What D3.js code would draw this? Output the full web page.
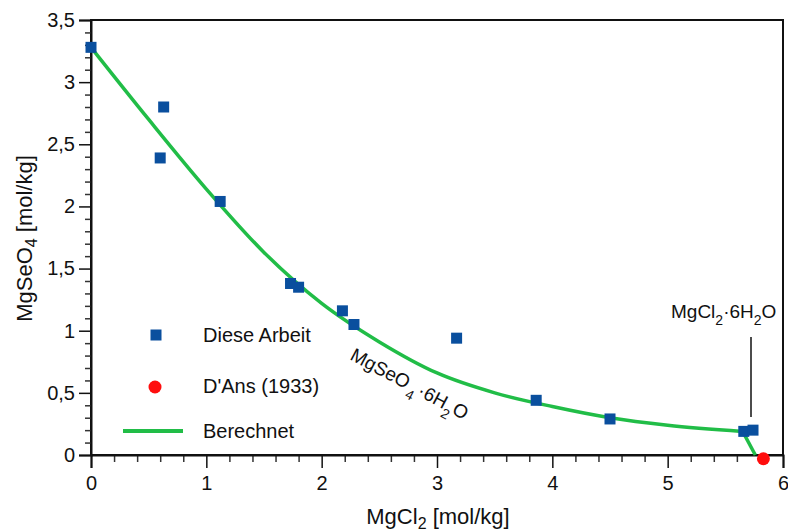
<!DOCTYPE html>
<html><head><meta charset="utf-8">
<script src="https://cdn.jsdelivr.net/npm/d3@7"></script>
<style>
html,body{margin:0;padding:0;background:#fff;}
svg{display:block;font-family:"Liberation Sans",Arial,sans-serif;}
</style></head>
<body>
<svg id="chart" width="788" height="532"></svg>
<script>
// ---- data ----
const dieseArbeitX = [0.00, 0.63, 0.60, 1.12, 1.73, 1.80, 2.18, 2.28, 3.17, 3.86, 4.50, 5.66, 5.74];
const dieseArbeitY = [3.28, 2.80, 2.39, 2.04, 1.38, 1.35, 1.16, 1.05, 0.94, 0.44, 0.29, 0.19, 0.20];
const dAnsX = [5.83];
const dAnsY = [-0.03];
const berechnetX = [0, 0.5, 1.0, 1.5, 2.0, 2.5, 3.0, 3.5, 4.0, 4.5, 5.0, 5.65];
const berechnetY = [3.28, 2.70, 2.14, 1.63, 1.22, 0.91, 0.66, 0.50, 0.39, 0.30, 0.24, 0.19];
const berechnet2X = [5.65, 5.76];
const berechnet2Y = [0.19, 0.00];
const xTicks = [0, 1, 2, 3, 4, 5, 6];
const yTicks = [0, 0.5, 1, 1.5, 2, 2.5, 3, 3.5];
const yTickLabels = ["0", "0,5", "1", "1,5", "2", "2,5", "3", "3,5"];
const legendLabels = ["Diese Arbeit", "D'Ans (1933)", "Berechnet"];

const BLUE = "#0a4f9e", RED = "#ff0d0d", GREEN = "#21bd47";

const svg = d3.select("#chart");
const L = 91, R = 783, T = 20, B = 455;
const x = d3.scaleLinear().domain([0, 6]).range([L, R]);
const y = d3.scaleLinear().domain([0, 3.5]).range([B, T]);

// frame
svg.append("rect").attr("x", L).attr("y", T).attr("width", R - L).attr("height", B - T)
  .attr("fill", "none").attr("stroke", "#111").attr("stroke-width", 2);

// minor ticks
const xMinor = d3.range(0, 6.0001, 0.2).filter(v => Math.abs(v - Math.round(v)) > 1e-6);
const yMinor = d3.range(0, 3.5001, 0.1).filter(v => Math.abs(v * 2 - Math.round(v * 2)) > 1e-6);

const xAxisMinor = svg.append("g").attr("transform", `translate(0,${B})`)
  .call(d3.axisBottom(x).tickValues(xMinor).tickSize(7).tickFormat(""));
const yAxisMinor = svg.append("g").attr("transform", `translate(${L},0)`)
  .call(d3.axisLeft(y).tickValues(yMinor).tickSize(6).tickFormat(""));
[xAxisMinor, yAxisMinor].forEach(g => {
  g.select(".domain").remove();
  g.selectAll("line").attr("stroke", "#333").attr("stroke-width", 1.5);
});

const xAxis = svg.append("g").attr("transform", `translate(0,${B})`)
  .call(d3.axisBottom(x).tickValues(xTicks).tickSize(13).tickPadding(8).tickFormat(d3.format("d")));
const yAxis = svg.append("g").attr("transform", `translate(${L},0)`)
  .call(d3.axisLeft(y).tickValues(yTicks).tickSize(12).tickPadding(4).tickFormat((d, i) => yTickLabels[i]));
[xAxis, yAxis].forEach(g => {
  g.select(".domain").attr("stroke", "#111").attr("stroke-width", 2);
  g.selectAll("line").attr("stroke", "#111").attr("stroke-width", 1.5);
  g.selectAll("text").attr("font-size", 20).attr("fill", "#111")
    .attr("font-family", "'Liberation Sans',Arial,sans-serif");
});

// axis titles
const xt = svg.append("text").attr("x", (L + R) / 2 + 1).attr("y", 524).attr("text-anchor", "middle")
  .attr("font-size", 22).attr("fill", "#111");
xt.append("tspan").text("MgCl");
xt.append("tspan").attr("font-size", 16).attr("dy", 5).text("2");
xt.append("tspan").attr("dy", -5).text(" [mol/kg]");

const yt = svg.append("text").attr("transform", `translate(32,${(T + B) / 2 + 1}) rotate(-90)`)
  .attr("text-anchor", "middle").attr("font-size", 22).attr("fill", "#111");
yt.append("tspan").text("MgSeO");
yt.append("tspan").attr("font-size", 16).attr("dy", 5).text("4");
yt.append("tspan").attr("dy", -5).text(" [mol/kg]");

// curve
const line = d3.line().x(d => x(d[0])).y(d => y(d[1]));
svg.append("path").datum(d3.zip(berechnetX, berechnetY))
  .attr("d", line.curve(d3.curveMonotoneX)).attr("fill", "none")
  .attr("stroke", GREEN).attr("stroke-width", 3.5);
svg.append("path").datum(d3.zip(berechnet2X, berechnet2Y))
  .attr("d", d3.line().x(d => x(d[0])).y(d => y(d[1]))).attr("fill", "none")
  .attr("stroke", GREEN).attr("stroke-width", 3.5);

// points
const sq = 11;
svg.append("g").selectAll("rect").data(d3.zip(dieseArbeitX, dieseArbeitY)).join("rect")
  .attr("x", d => x(d[0]) - sq / 2).attr("y", d => y(d[1]) - sq / 2)
  .attr("width", sq).attr("height", sq).attr("fill", BLUE);
svg.append("g").selectAll("circle").data(d3.zip(dAnsX, dAnsY)).join("circle")
  .attr("cx", d => x(d[0])).attr("cy", d => y(d[1])).attr("r", 6.5).attr("fill", RED);

// legend
const lg = svg.append("g");
lg.append("rect").attr("x", 156 - sq / 2).attr("y", 335 - sq / 2).attr("width", sq).attr("height", sq).attr("fill", BLUE);
lg.append("circle").attr("cx", 155).attr("cy", 387).attr("r", 6.5).attr("fill", RED);
lg.append("line").attr("x1", 123).attr("x2", 183).attr("y1", 431).attr("y2", 431)
  .attr("stroke", GREEN).attr("stroke-width", 4);
[342, 393, 438].forEach((yy, i) => {
  lg.append("text").attr("x", 203).attr("y", yy).attr("font-size", 20).attr("fill", "#111").text(legendLabels[i]);
});

// annotations
const a1 = svg.append("text").attr("transform", "translate(349,359) rotate(28)")
  .attr("font-size", 19).attr("fill", "#111");
a1.append("tspan").text("MgSeO");
a1.append("tspan").attr("font-size", 14).attr("dx", 2).attr("dy", 8).text("4");
a1.append("tspan").attr("dx", 2).attr("dy", -8).text("·6H");
a1.append("tspan").attr("font-size", 14).attr("dy", 8).text("2");
a1.append("tspan").attr("dx", 1).attr("dy", -8).text("O");

const a2 = svg.append("text").attr("x", 671).attr("y", 318).attr("font-size", 19).attr("fill", "#111");
a2.append("tspan").text("MgCl");
a2.append("tspan").attr("font-size", 14).attr("dy", 7).text("2");
a2.append("tspan").attr("dy", -7).text("·6H");
a2.append("tspan").attr("font-size", 14).attr("dy", 7).text("2");
a2.append("tspan").attr("dy", -7).text("O");
svg.append("line").attr("x1", 751).attr("x2", 751).attr("y1", 337).attr("y2", 417)
  .attr("stroke", "#111").attr("stroke-width", 1.5);
</script>
</body></html>
